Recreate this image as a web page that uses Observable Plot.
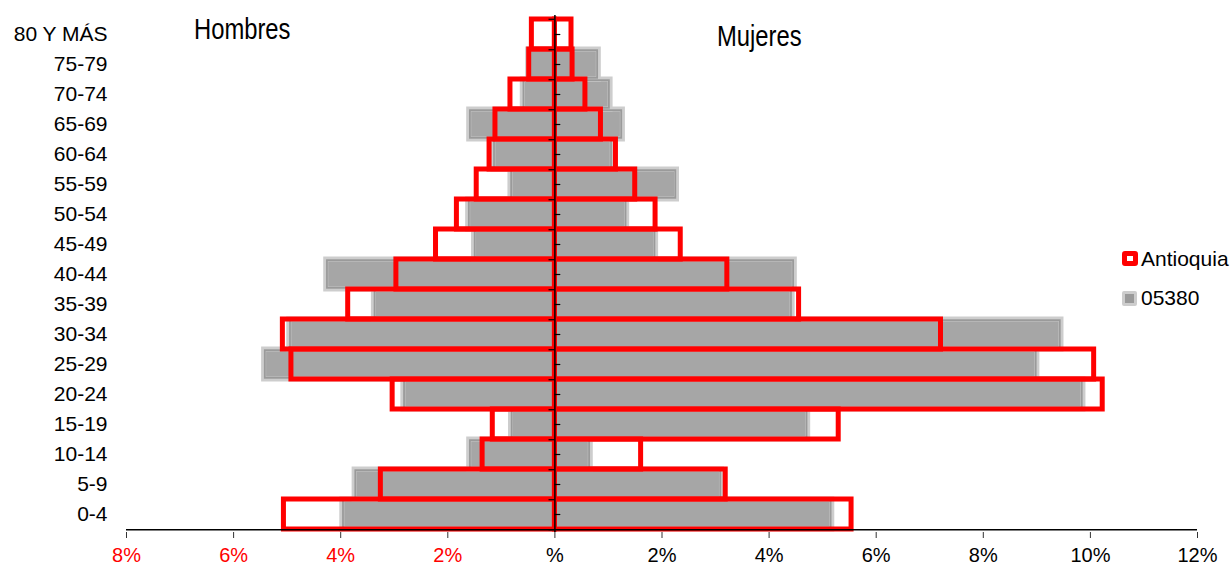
<!DOCTYPE html>
<html>
<head>
<meta charset="utf-8">
<script src="https://cdn.jsdelivr.net/npm/d3@7"></script>
<script src="https://cdn.jsdelivr.net/npm/@observablehq/plot@0.6"></script>
<style>
  html, body { margin: 0; padding: 0; background: #fff; }
  #wrap { position: relative; width: 1230px; height: 566px; font-family: "Liberation Sans", Arial, sans-serif; color: #000; }
  .t { position: absolute; white-space: nowrap; line-height: 1; }
  .title { font-size: 29px; transform: scaleX(0.82); transform-origin: left top; }
  .leg { font-size: 21px; }
  .sym { position: absolute; box-sizing: border-box; }
</style>
</head>
<body>
<div id="wrap"></div>
<script>
// Age groups (bottom to top)
const ages = ["0-4","5-9","10-14","15-19","20-24","25-29","30-34","35-39","40-44","45-49","50-54","55-59","60-64","65-69","70-74","75-79","80 Y MÁS"];
// Antioquia (% of population)
const hombresAntioquia = [5.06, 3.25, 1.35, 1.16, 3.03, 4.92, 5.08, 3.86, 2.96, 2.22, 1.83, 1.46, 1.22, 1.11, 0.83, 0.48, 0.43];
const mujeresAntioquia = [5.54, 3.19, 1.61, 5.30, 10.23, 10.07, 7.21, 4.56, 3.22, 2.35, 1.88, 1.50, 1.14, 0.86, 0.57, 0.33, 0.31];
// Municipality 05380 (% of population)
const hombres05380 = [3.97, 3.74, 1.60, 0.82, 2.83, 5.43, 4.96, 3.38, 4.27, 1.51, 1.62, 0.83, 1.15, 1.60, 0.60, 0.50, 0];
const mujeres05380 = [5.18, 3.12, 0.67, 4.73, 9.87, 9.01, 9.46, 4.44, 4.48, 1.89, 1.35, 2.28, 1.08, 1.27, 1.04, 0.82, 0];
const xTicksNeg = [-8, -6, -4, -2];
const xTicksPos = [0, 2, 4, 6, 8, 10, 12];
const series = ["Antioquia", "05380"];

function rows(h, m) {
  const out = [];
  ages.forEach((a, i) => {
    if (h[i] > 0) out.push({age: a, x1: -h[i], x2: 0});
    if (m[i] > 0) out.push({age: a, x1: 0, x2: m[i]});
  });
  return out;
}
const grayRows = rows(hombres05380, mujeres05380);
const redRows = rows(hombresAntioquia, mujeresAntioquia);

const H = 566, mT = 15, mB = 34;
const bw = (H - mT - mB) / ages.length;

const chart = Plot.plot({
  width: 1230,
  height: H,
  marginLeft: 126,
  marginRight: 33,
  marginTop: mT,
  marginBottom: mB,
  style: {fontFamily: '"Liberation Sans", Arial, sans-serif', fontSize: "21px", background: "transparent", color: "#000"},
  x: {domain: [-8, 12]},
  y: {domain: ages.slice().reverse(), padding: 0},
  marks: [
    Plot.barX(grayRows, {x1: "x1", x2: "x2", y: "age", fill: "#a6a6a6", stroke: "#cdcdcd", strokeWidth: 5}),
    Plot.barX(grayRows, {x1: "x1", x2: "x2", y: "age", fill: "none", stroke: "#9a9a9a", strokeWidth: 1.8, inset: 1.2}),
    Plot.barX(redRows, {x1: "x1", x2: "x2", y: "age", fill: "none", stroke: "#ff0000", strokeWidth: 5}),
    Plot.ruleX([0], {stroke: "#000", strokeWidth: 1.5}),
    Plot.ruleY(ages, {y: d => d, x1: 0, x2: 0.11, stroke: "#000", strokeWidth: 1.2}),
    Plot.ruleY(ages, {y: d => d, x1: -0.11, x2: 0, dy: bw / 2, stroke: "#000", strokeWidth: 1.2}),
    Plot.ruleY([ages[ages.length - 1]], {y: d => d, x1: -0.11, x2: 0, dy: -bw / 2, stroke: "#000", strokeWidth: 1.2}),
    Plot.ruleY([ages[0]], {y: d => d, x1: -8, x2: 12, dy: bw / 2, stroke: "#000", strokeWidth: 1.5}),
    Plot.axisX(xTicksNeg, {tickSize: 6, tickPadding: 9.5, stroke: "#333", fill: "#ff0000", fontSize: 20, tickFormat: d => Math.abs(d) + "%", label: null}),
    Plot.axisX(xTicksPos, {tickSize: 6, tickPadding: 9.5, stroke: "#333", fill: "#000", fontSize: 20, tickFormat: d => d === 0 ? "%" : d + "%", label: null}),
    Plot.axisY({tickSize: 0, tickPadding: 19, fontSize: 21, label: null})
  ]
});

const wrap = document.getElementById("wrap");
wrap.appendChild(chart);

function addText(txt, cls, left, top) {
  const d = document.createElement("div");
  d.className = "t " + cls;
  d.textContent = txt;
  d.style.left = left + "px";
  d.style.top = top + "px";
  wrap.appendChild(d);
}
addText("Hombres", "title", 194, 15);
addText("Mujeres", "title", 717, 22);

// legend
function addSym(left, top, w, h, bg, border, radius) {
  const s = document.createElement("div");
  s.className = "sym";
  Object.assign(s.style, {left: left + "px", top: top + "px", width: w + "px", height: h + "px", background: bg, border: border, borderRadius: radius});
  wrap.appendChild(s);
}
addSym(1122, 251, 16, 15, "#fff", "5px solid #ff0000", "3px");
addText(series[0], "leg", 1141, 248);
addSym(1122, 291, 15, 15, "#9a9a9a", "3px solid #cdcdcd", "2px");
addText(series[1], "leg", 1141, 287);
</script>
</body>
</html>
